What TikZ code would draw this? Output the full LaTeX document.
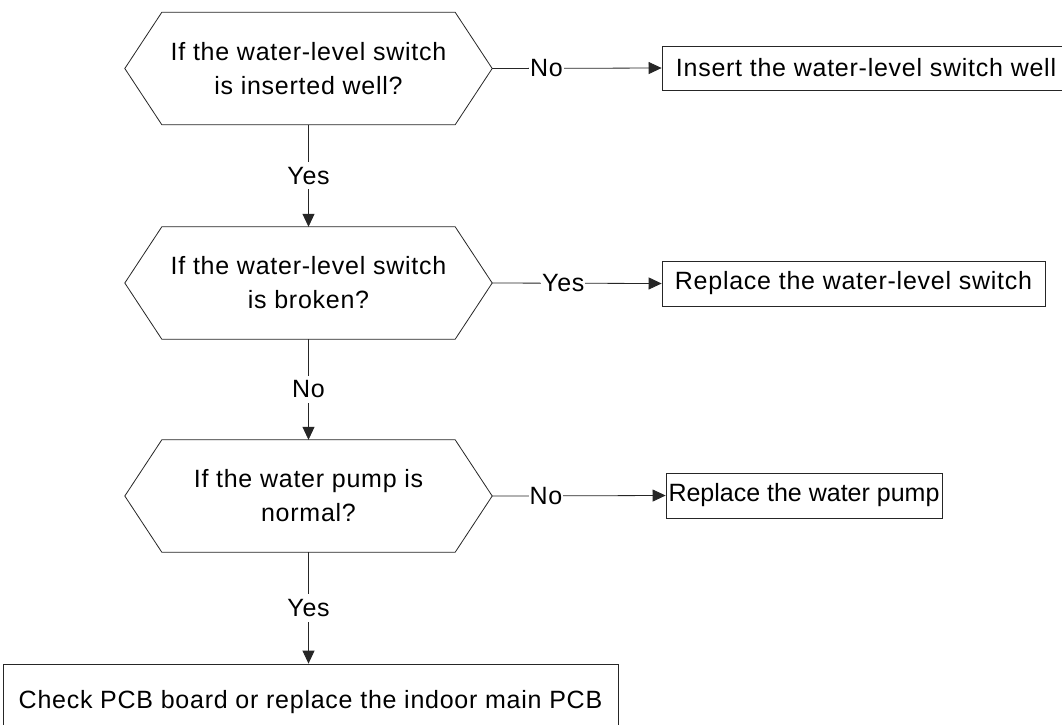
\documentclass[tikz,border=0pt]{standalone}
\usepackage{fontspec}
\setmainfont{Liberation Sans}[LetterSpace=3]
\usetikzlibrary{arrows.meta}
\begin{document}
\begin{tikzpicture}[x=1pt,y=-1pt,
  txt/.style={font=\fontsize{25}{34}\selectfont, text=black},
  hexnode/.style={txt, draw=none, minimum width=367pt, minimum height=112pt, inner sep=0pt, align=center},
  hexline/.style={draw=black!85, line width=0.8pt},
  boxnode/.style={txt, draw=black!85, line width=0.8pt, inner sep=0pt, align=center},
  lab/.style={txt, fill=white, inner xsep=1pt, inner ysep=5pt},
  arr/.style={draw=black!85, line width=0.8pt, -{Triangle[length=13pt,width=12pt]}}]
\clip (0,0) rectangle (1062,724);
\fill[white] (0,0) rectangle (1062,724);
% decisions
\node[hexnode] (h1) at (308.5,68.5) {If the water-level switch\\is inserted well?};
\node[hexnode] (h2) at (308.5,283) {If the water-level switch\\is broken?};
\node[hexnode] (h3) at (308.5,496) {If the water pump is\\normal?};
\foreach \h in {h1,h2,h3}
  \draw[hexline] (\h.west) -- ([xshift=37pt]\h.north west) -- ([xshift=-37pt]\h.north east)
     -- (\h.east) -- ([xshift=-37pt]\h.south east) -- ([xshift=37pt]\h.south west) -- cycle;
% action boxes
\node[boxnode, minimum width=408pt, minimum height=44pt] (b1) at (866,68) {Insert the water-level switch well};
\node[boxnode, minimum width=383pt, minimum height=45pt] (b2) at (853.5,283.5) {Replace the water-level switch};
\node[boxnode, minimum width=276pt, minimum height=45pt] (b3) at (804,495.5) {\addfontfeature{LetterSpace=0}Replace the water pump};
\node[boxnode, minimum width=615pt, minimum height=76pt] (b4) at (310.5,702) {Check PCB board or replace the indoor main PCB};
% connectors
\draw[arr] (h1.east) -- node[lab, pos=0.32] {No} (b1.west);
\draw[arr] (h2.east) -- node[lab, pos=0.42] {Yes} (b2.west);
\draw[arr] (h3.east) -- node[lab, pos=0.31] {No} (b3.west);
\draw[arr] (h1.south) -- node[lab] {Yes} (h2.north);
\draw[arr] (h2.south) -- node[lab] {No} (h3.north);
\draw[arr] (h3.south) -- node[lab] {Yes} (h3.south |- b4.north);
\end{tikzpicture}
\end{document}
